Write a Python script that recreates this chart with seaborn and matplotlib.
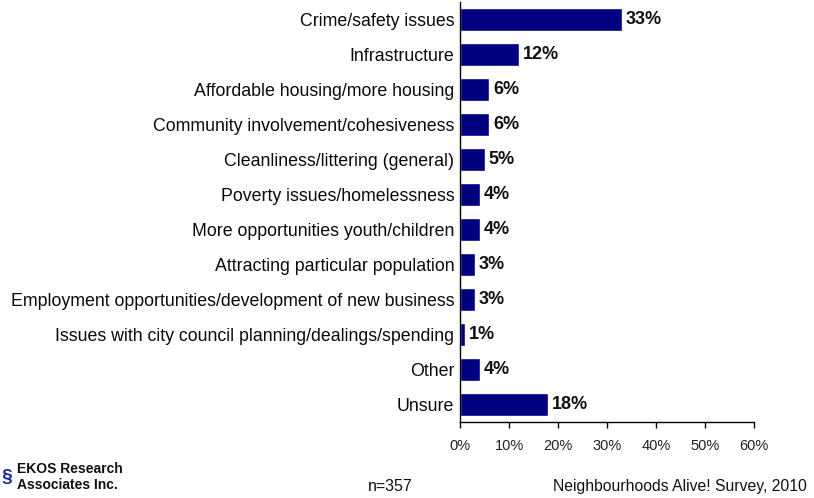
import matplotlib
matplotlib.use("Agg")
import matplotlib.pyplot as plt
import seaborn as sns
import pandas as pd

categories = [
    "Crime/safety issues",
    "Infrastructure",
    "Affordable housing/more housing",
    "Community involvement/cohesiveness",
    "Cleanliness/littering (general)",
    "Poverty issues/homelessness",
    "More opportunities youth/children",
    "Attracting particular population",
    "Employment opportunities/development of new business",
    "Issues with city council planning/dealings/spending",
    "Other",
    "Unsure",
]
values = [33, 12, 6, 6, 5, 4, 4, 3, 3, 1, 4, 18]
tick_values = [0, 10, 20, 30, 40, 50, 60]
tick_labels = ["0%", "10%", "20%", "30%", "40%", "50%", "60%"]

sns.set_style("white")
plt.rcParams['font.family'] = ['Liberation Sans', 'DejaVu Sans']

df = pd.DataFrame({"cat": categories, "val": values})

fig = plt.figure(figsize=(8.14, 4.98), dpi=100)
ax = fig.add_axes([460/814, 1 - 422/498, 294/814, 420/498])
sns.barplot(data=df, y="cat", x="val", orient="h", color="#000080",
            saturation=1, width=0.63, ax=ax)
ax.set_xlim(0, 60)
ax.set_ylim(len(categories) - 0.5, -0.5)
ax.set_xticks(tick_values)
ax.set_xticklabels(tick_labels, fontsize=10.5, color="#222222")
ax.tick_params(axis="x", direction="out", length=4, width=1, color="black", pad=8, bottom=True)
ax.tick_params(axis="y", length=0, labelsize=12.75, pad=4, labelcolor="#0a0a0a")
ax.set_xlabel("")
ax.set_ylabel("")
for s in ["top", "right"]:
    ax.spines[s].set_visible(False)
for s in ["left", "bottom"]:
    ax.spines[s].set_color("black")
    ax.spines[s].set_linewidth(1)

for i, v in enumerate(values):
    ax.text(v + 0.8, i, f"{v}%", va="center", ha="left", fontsize=13,
            fontweight="bold", color="#111111")

fig.text(390/814, 1 - 486/498, "n=357", ha="center", va="center", fontsize=11.5,
         color="#111111")
fig.text(807/814, 1 - 486/498, "Neighbourhoods Alive! Survey, 2010", ha="right",
         va="center", fontsize=11.3, color="#111111")
fig.text(17/814, 1 - 477/498, "EKOS Research\nAssociates Inc.", ha="left",
         va="center", fontsize=10, fontweight="bold", linespacing=1.15,
         color="#111111")
fig.text(1/814, 1 - 478/498, "§", ha="left", va="center", fontsize=14,
         fontweight="bold", color="#1a2a9a")

fig.savefig("out.png", dpi=100)
